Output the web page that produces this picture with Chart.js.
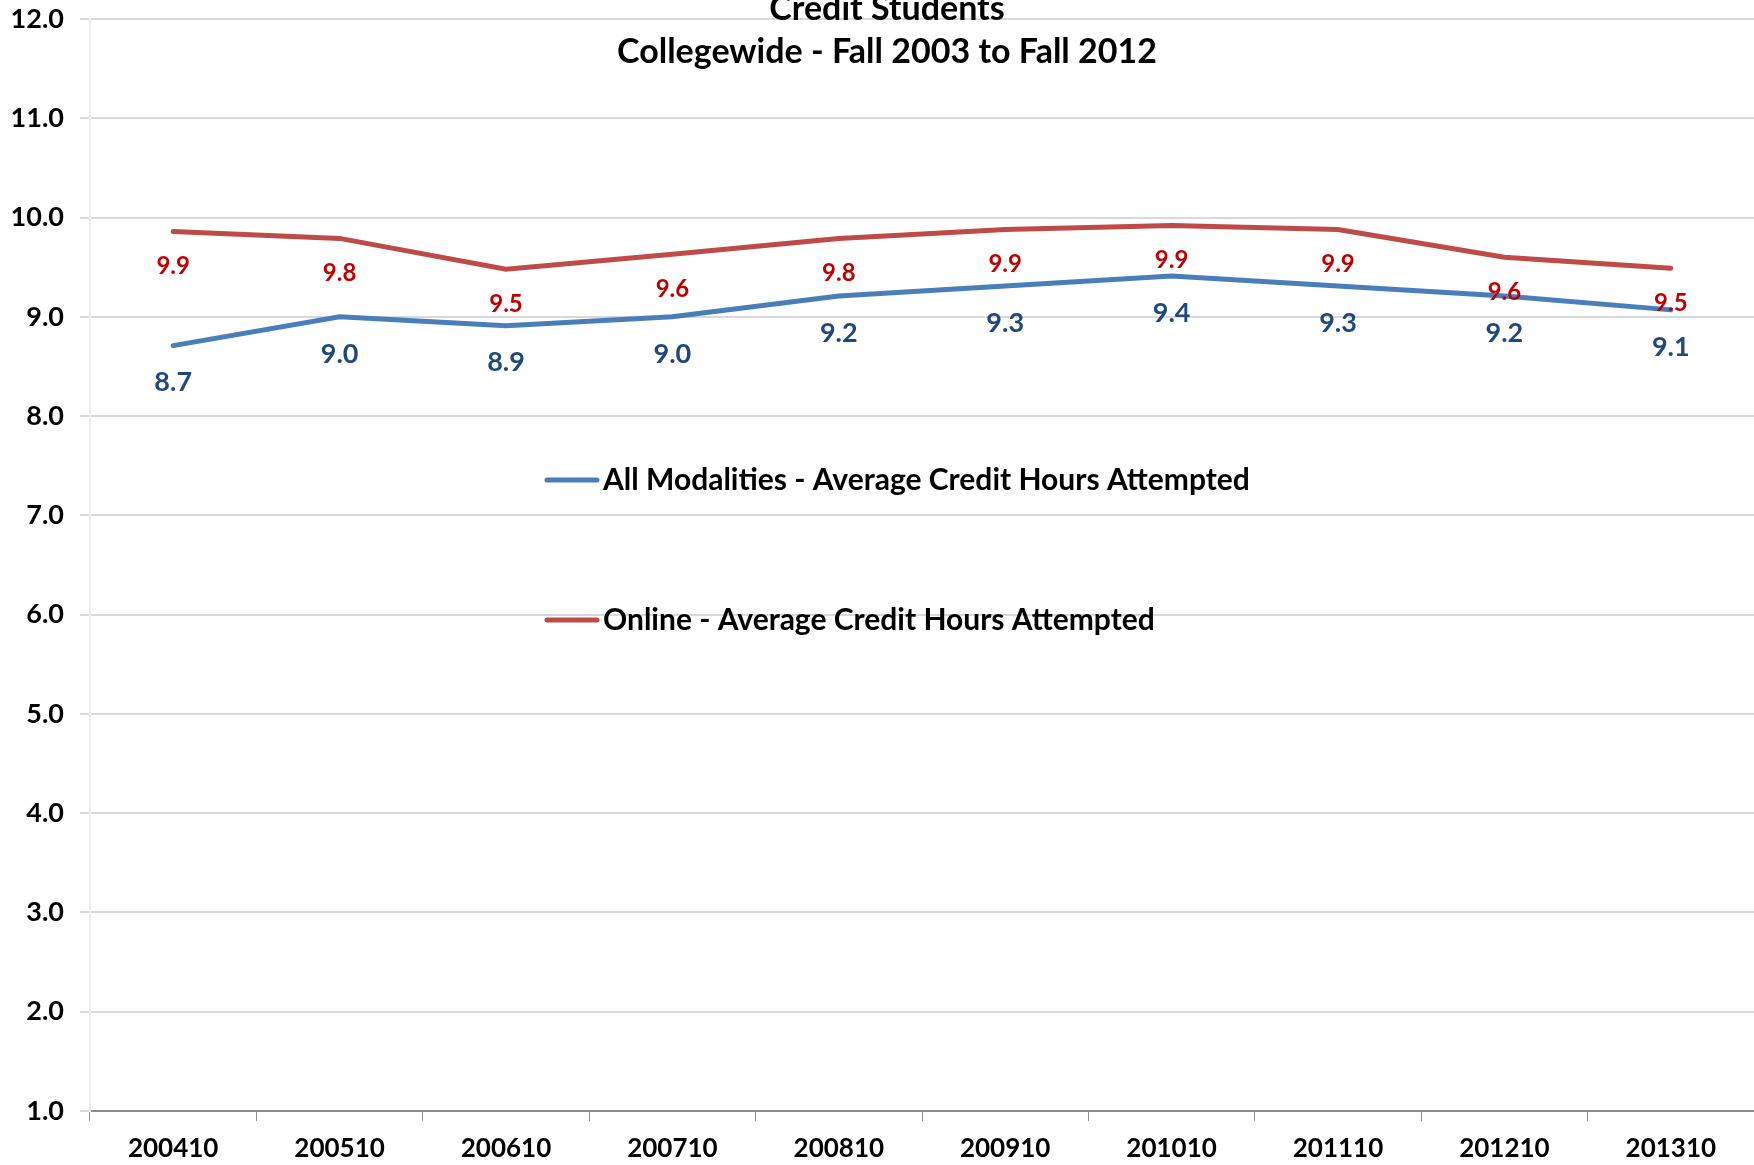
<!DOCTYPE html>
<html>
<head>
<meta charset="utf-8">
<script src="https://cdn.jsdelivr.net/npm/chart.js@4.4.0/dist/chart.umd.min.js"></script>
<style>
  html, body { margin: 0; padding: 0; background: #fff; }
  #wrap { width: 1754px; height: 1165px; }
</style>
</head>
<body>
<div id="wrap"><canvas id="chart" width="1754" height="1165"></canvas></div>
<script>
const terms = ['200410', '200510', '200610', '200710', '200810', '200910', '201010', '201110', '201210', '201310'];
const allModalities = [8.71, 9.00, 8.91, 9.00, 9.21, 9.31, 9.41, 9.31, 9.21, 9.07];
const online = [9.86, 9.79, 9.48, 9.63, 9.79, 9.88, 9.92, 9.88, 9.60, 9.49];
const titleLines = ['Credit Students', 'Collegewide - Fall 2003 to Fall 2012'];
const seriesNames = ['All Modalities - Average Credit Hours Attempted', 'Online - Average Credit Hours Attempted'];

const FONT = 'Lato, "Open Sans", sans-serif';

// title, legend and value labels sit inside the plot, so draw them by hand
const overlay = {
    id: 'overlay',
    afterDatasetsDraw(chart) {
        const ctx = chart.ctx;
        ctx.save();

        // value labels under each point
        const labelStyle = [
            { color: '#1F497D', size: 27, dy: 37 },
            { color: '#C00000', size: 24, dy: 35 }
        ];
        chart.data.datasets.forEach((ds, i) => {
            const meta = chart.getDatasetMeta(i);
            const st = labelStyle[i];
            ctx.fillStyle = st.color;
            ctx.font = `bold ${st.size}px ${FONT}`;
            ctx.textAlign = 'center';
            ctx.textBaseline = 'middle';
            meta.data.forEach((pt, j) => {
                ctx.fillText(ds.data[j].toFixed(1), pt.x, pt.y + st.dy);
            });
        });

        // title
        ctx.fillStyle = '#000';
        ctx.font = `bold 34px ${FONT}`;
        ctx.textAlign = 'center';
        ctx.textBaseline = 'middle';
        ctx.fillText(titleLines[0], 887, 9);
        ctx.fillText(titleLines[1], 887, 52);

        // legend
        const legendY = [480, 620];
        chart.data.datasets.forEach((ds, i) => {
            ctx.strokeStyle = ds.borderColor;
            ctx.lineWidth = 5;
            ctx.lineCap = 'round';
            ctx.beginPath();
            ctx.moveTo(547, legendY[i]);
            ctx.lineTo(597, legendY[i]);
            ctx.stroke();
            ctx.fillStyle = '#000';
            ctx.font = `bold 30px ${FONT}`;
            ctx.textAlign = 'left';
            ctx.fillText(ds.label, 603, legendY[i]);
        });
        ctx.restore();
    }
};

new Chart(document.getElementById('chart'), {
    type: 'line',
    data: {
        labels: terms,
        datasets: [
            {
                label: seriesNames[0],
                data: allModalities,
                borderColor: '#4A7EBB',
                borderWidth: 5,
                pointRadius: 0,
                tension: 0,
                borderCapStyle: 'round'
            },
            {
                label: seriesNames[1],
                data: online,
                borderColor: '#BE4B48',
                borderWidth: 5,
                pointRadius: 0,
                tension: 0,
                borderCapStyle: 'round'
            }
        ]
    },
    options: {
        responsive: false,
        animation: false,
        layout: { padding: { top: 19, left: 0, right: 0, bottom: 0 } },
        plugins: {
            legend: { display: false },
            title: { display: false },
            tooltip: { enabled: false }
        },
        scales: {
            x: {
                offset: true,
                grid: {
                    offset: true,
                    drawOnChartArea: false,
                    color: '#8C8C8C',
                    tickLength: 10
                },
                border: { color: '#8C8C8C', width: 2 },
                ticks: {
                    color: '#000',
                    font: { family: FONT, weight: 'bold', size: 26 },
                    padding: 12,
                    maxRotation: 0
                },
                afterFit(scale) { scale.height = 54; }
            },
            y: {
                min: 1,
                max: 12,
                ticks: {
                    stepSize: 1,
                    color: '#000',
                    font: { family: FONT, weight: 'bold', size: 27 },
                    padding: 16,
                    callback: v => v.toFixed(1)
                },
                grid: { color: '#D9D9D9', lineWidth: 2, tickLength: 10 },
                border: { color: '#EDEDED', width: 2 },
                afterFit(scale) {
                    scale.width = 90;
                    scale.paddingTop = 0;
                    scale.paddingBottom = 0;
                }
            }
        }
    },
    plugins: [overlay]
});
</script>
</body>
</html>
